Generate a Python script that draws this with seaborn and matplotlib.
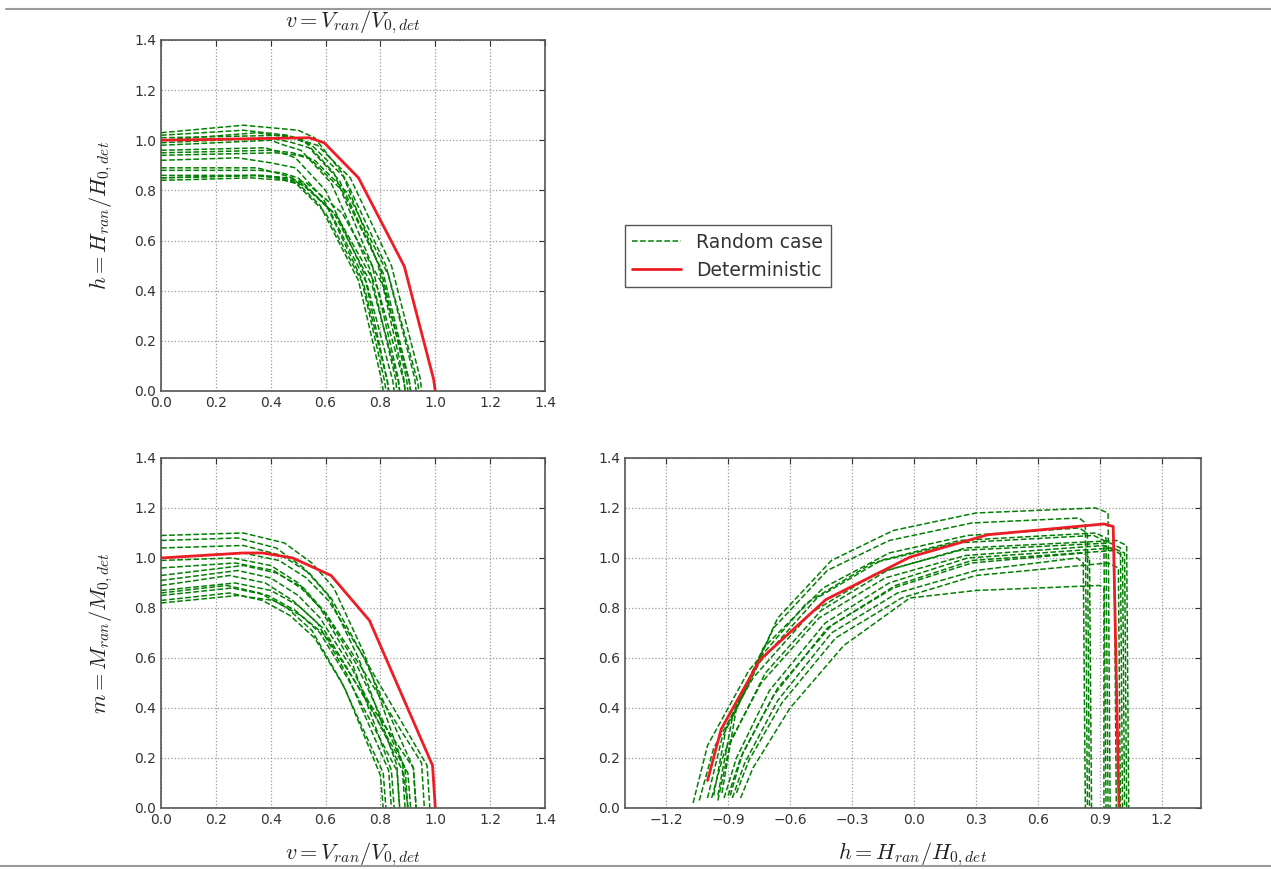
import numpy as np
import pandas as pd
import matplotlib
matplotlib.use("Agg")
import matplotlib.pyplot as plt
from matplotlib.lines import Line2D
import seaborn as sns

# deterministic interaction curves
det_vh_v = [0.0, 0.54, 0.595, 0.72, 0.887, 0.994, 1.0]
det_vh_h = [1.0, 1.01, 0.99, 0.85, 0.497, 0.046, 0.0]

det_vm_v = [0.0, 0.30, 0.37, 0.48, 0.62, 0.76, 0.99, 1.0]
det_vm_m = [1.0, 1.02, 1.02, 1.0, 0.93, 0.75, 0.17, 0.0]

det_hm_h = [-1.0, -0.934, -0.746, -0.426, -0.018, 0.358, 0.92, 0.965, 0.993]
det_hm_m = [0.11, 0.315, 0.593, 0.834, 1.004, 1.093, 1.136, 1.126, 0.0]

# random cases, one list per case
rand_vh_v = [
    [0, 0.30, 0.50, 0.56, 0.66, 0.79, 0.885, 0.89],
    [0, 0.35, 0.48, 0.55, 0.67, 0.82, 0.925, 0.93],
    [0, 0.40, 0.45, 0.51, 0.62, 0.76, 0.855, 0.86],
    [0, 0.38, 0.44, 0.49, 0.60, 0.74, 0.825, 0.83],
    [0, 0.40, 0.48, 0.54, 0.66, 0.81, 0.905, 0.91],
    [0, 0.42, 0.50, 0.56, 0.68, 0.83, 0.935, 0.94],
    [0, 0.35, 0.42, 0.48, 0.58, 0.72, 0.805, 0.81],
    [0, 0.36, 0.44, 0.50, 0.61, 0.75, 0.845, 0.85],
    [0, 0.34, 0.42, 0.49, 0.60, 0.74, 0.825, 0.83],
    [0, 0.35, 0.44, 0.51, 0.63, 0.77, 0.865, 0.87],
    [0, 0.33, 0.45, 0.52, 0.64, 0.79, 0.885, 0.89],
    [0, 0.37, 0.46, 0.53, 0.66, 0.81, 0.905, 0.91],
    [0, 0.45, 0.51, 0.57, 0.69, 0.84, 0.945, 0.95],
    [0, 0.28, 0.40, 0.49, 0.59, 0.73, 0.815, 0.82],
    [0, 0.40, 0.48, 0.54, 0.65, 0.80, 0.895, 0.90],
    [0, 0.30, 0.46, 0.52, 0.63, 0.77, 0.865, 0.87],
]
rand_vh_h = [
    [1.03, 1.06, 1.04, 1.01, 0.87, 0.51, 0.05, 0],
    [1.00, 1.03, 1.01, 0.98, 0.85, 0.50, 0.05, 0],
    [0.98, 1.00, 0.98, 0.96, 0.83, 0.49, 0.05, 0],
    [0.96, 0.97, 0.95, 0.93, 0.80, 0.47, 0.04, 0],
    [0.95, 0.96, 0.95, 0.93, 0.80, 0.47, 0.04, 0],
    [0.94, 0.95, 0.94, 0.92, 0.79, 0.46, 0.04, 0],
    [0.89, 0.89, 0.87, 0.85, 0.74, 0.44, 0.04, 0],
    [0.88, 0.88, 0.87, 0.85, 0.73, 0.43, 0.04, 0],
    [0.86, 0.86, 0.85, 0.83, 0.71, 0.42, 0.04, 0],
    [0.85, 0.86, 0.85, 0.83, 0.71, 0.42, 0.04, 0],
    [0.84, 0.85, 0.84, 0.82, 0.70, 0.41, 0.04, 0],
    [0.85, 0.86, 0.85, 0.83, 0.71, 0.42, 0.04, 0],
    [1.01, 1.02, 1.00, 0.98, 0.85, 0.50, 0.05, 0],
    [0.92, 0.93, 0.91, 0.89, 0.77, 0.45, 0.04, 0],
    [0.99, 1.01, 0.99, 0.97, 0.84, 0.49, 0.05, 0],
    [1.02, 1.04, 1.02, 1.00, 0.87, 0.50, 0.05, 0],
]

rand_vm_v = [
    [0, 0.30, 0.45, 0.55, 0.63, 0.74, 0.88, 0.90],
    [0, 0.28, 0.42, 0.52, 0.61, 0.72, 0.86, 0.87],
    [0, 0.30, 0.44, 0.54, 0.62, 0.74, 0.92, 0.93],
    [0, 0.26, 0.40, 0.50, 0.58, 0.70, 0.84, 0.85],
    [0, 0.30, 0.42, 0.52, 0.60, 0.72, 0.95, 0.96],
    [0, 0.28, 0.40, 0.50, 0.58, 0.70, 0.88, 0.89],
    [0, 0.25, 0.38, 0.48, 0.57, 0.68, 0.83, 0.84],
    [0, 0.27, 0.40, 0.50, 0.59, 0.70, 0.90, 0.91],
    [0, 0.24, 0.36, 0.46, 0.55, 0.66, 0.81, 0.82],
    [0, 0.26, 0.39, 0.49, 0.58, 0.69, 0.86, 0.87],
    [0, 0.25, 0.37, 0.47, 0.56, 0.67, 0.80, 0.81],
    [0, 0.28, 0.41, 0.51, 0.60, 0.71, 0.92, 0.93],
    [0, 0.30, 0.43, 0.53, 0.61, 0.73, 0.97, 0.98],
    [0, 0.27, 0.41, 0.51, 0.59, 0.71, 0.89, 0.90],
]
rand_vm_m = [
    [1.09, 1.10, 1.06, 0.98, 0.88, 0.62, 0.18, 0],
    [1.07, 1.08, 1.04, 0.96, 0.85, 0.60, 0.17, 0],
    [1.04, 1.05, 1.01, 0.94, 0.84, 0.60, 0.16, 0],
    [0.99, 1.00, 0.97, 0.90, 0.80, 0.57, 0.15, 0],
    [0.93, 0.97, 0.94, 0.88, 0.78, 0.58, 0.18, 0],
    [0.91, 0.95, 0.92, 0.85, 0.76, 0.55, 0.15, 0],
    [0.89, 0.93, 0.90, 0.83, 0.74, 0.53, 0.15, 0],
    [0.87, 0.90, 0.87, 0.81, 0.72, 0.52, 0.14, 0],
    [0.86, 0.89, 0.86, 0.80, 0.71, 0.50, 0.14, 0],
    [0.85, 0.88, 0.85, 0.79, 0.70, 0.50, 0.15, 0],
    [0.83, 0.86, 0.83, 0.77, 0.68, 0.48, 0.13, 0],
    [0.82, 0.85, 0.83, 0.77, 0.69, 0.50, 0.16, 0],
    [1.00, 1.02, 0.99, 0.92, 0.83, 0.62, 0.17, 0],
    [0.96, 0.98, 0.95, 0.88, 0.79, 0.58, 0.16, 0],
]

rand_hm_h = [
    [-0.93, -0.86, -0.66, -0.40, -0.10, 0.30, 0.88, 0.94, 0.95],
    [-0.95, -0.88, -0.68, -0.42, -0.12, 0.28, 0.80, 0.83, 0.84],
    [-1.07, -1.00, -0.80, -0.52, -0.20, 0.20, 0.87, 0.92, 0.93],
    [-1.04, -0.97, -0.78, -0.50, -0.18, 0.22, 0.95, 1.00, 1.01],
    [-0.98, -0.92, -0.74, -0.46, -0.14, 0.25, 0.92, 0.97, 0.98],
    [-0.92, -0.86, -0.70, -0.43, -0.12, 0.26, 0.96, 1.02, 1.03],
    [-0.90, -0.84, -0.68, -0.42, -0.10, 0.28, 0.82, 0.85, 0.86],
    [-0.88, -0.82, -0.66, -0.40, -0.08, 0.30, 0.79, 0.82, 0.83],
    [-0.86, -0.80, -0.64, -0.38, -0.06, 0.30, 0.94, 0.99, 1.00],
    [-0.95, -0.89, -0.72, -0.45, -0.13, 0.25, 0.98, 1.03, 1.04],
    [-1.00, -0.93, -0.75, -0.47, -0.16, 0.22, 0.88, 0.93, 0.94],
    [-0.84, -0.78, -0.60, -0.34, -0.02, 0.30, 0.90, 0.92, 0.92],
    [-0.97, -0.91, -0.73, -0.44, -0.12, 0.26, 0.80, 0.84, 0.85],
    [-0.89, -0.83, -0.66, -0.40, -0.09, 0.28, 0.97, 1.01, 1.02],
]
rand_hm_m = [
    [0.06, 0.40, 0.76, 0.99, 1.11, 1.18, 1.20, 1.18, 0],
    [0.05, 0.36, 0.72, 0.95, 1.07, 1.14, 1.16, 1.14, 0],
    [0.02, 0.25, 0.55, 0.82, 0.98, 1.06, 1.09, 1.07, 0],
    [0.03, 0.24, 0.52, 0.78, 0.94, 1.03, 1.06, 1.04, 0],
    [0.04, 0.22, 0.50, 0.76, 0.92, 1.01, 1.05, 1.03, 0],
    [0.04, 0.20, 0.47, 0.74, 0.90, 1.00, 1.04, 1.02, 0],
    [0.05, 0.20, 0.45, 0.72, 0.88, 0.98, 1.02, 1.00, 0],
    [0.04, 0.18, 0.43, 0.70, 0.86, 0.95, 1.00, 0.98, 0],
    [0.06, 0.19, 0.42, 0.68, 0.84, 0.93, 0.98, 0.96, 0],
    [0.03, 0.26, 0.54, 0.79, 0.95, 1.04, 1.07, 1.05, 0],
    [0.04, 0.28, 0.58, 0.84, 0.99, 1.07, 1.10, 1.08, 0],
    [0.04, 0.16, 0.40, 0.65, 0.84, 0.87, 0.89, 0.88, 0],
    [0.05, 0.32, 0.64, 0.88, 1.02, 1.09, 1.12, 1.10, 0],
    [0.05, 0.22, 0.48, 0.73, 0.89, 0.99, 1.03, 1.01, 0],
]

y_ticks = [0.0, 0.2, 0.4, 0.6, 0.8, 1.0, 1.2, 1.4]
v_ticks = [0.0, 0.2, 0.4, 0.6, 0.8, 1.0, 1.2, 1.4]
h_ticks = [-1.2, -0.9, -0.6, -0.3, 0.0, 0.3, 0.6, 0.9, 1.2]


def to_frame(xs, ys):
    parts = []
    for i, (x, y) in enumerate(zip(xs, ys)):
        parts.append(pd.DataFrame({"case": i, "x": x, "y": y}))
    return pd.concat(parts, ignore_index=True)


def draw(ax, rx, ry, dx, dy):
    sns.lineplot(data=to_frame(rx, ry), x="x", y="y", units="case",
                 estimator=None, sort=False, color="green", linestyle="--",
                 lw=1.1, ax=ax, legend=False)
    sns.lineplot(data=pd.DataFrame({"x": dx, "y": dy}), x="x", y="y",
                 estimator=None, sort=False, color="#ee1c24", lw=2, ax=ax)
    ax.grid(True, color="#9a9a9a", linestyle=":", lw=0.9)
    ax.tick_params(direction="in", top=True, right=True, length=4,
                   labelsize=10, colors="#333333")
    for sp in ax.spines.values():
        sp.set_color("#555555")
        sp.set_linewidth(1.2)
    ax.set_ylim(0, 1.4)
    ax.set_yticks(y_ticks)
    ax.set_xlabel("")
    ax.set_ylabel("")


sns.set_style("white")
plt.rcParams["mathtext.fontset"] = "cm"
plt.rcParams["font.family"] = ["DejaVu Sans"]

fig = plt.figure(figsize=(12.71, 8.69), dpi=100)
ax_tl = fig.add_axes([0.1267, 0.5501, 0.3021, 0.4039])
ax_bl = fig.add_axes([0.1267, 0.0702, 0.3021, 0.4028])
ax_br = fig.add_axes([0.4917, 0.0702, 0.4532, 0.4028])

draw(ax_tl, rand_vh_v, rand_vh_h, det_vh_v, det_vh_h)
draw(ax_bl, rand_vm_v, rand_vm_m, det_vm_v, det_vm_m)
draw(ax_br, rand_hm_h, rand_hm_m, det_hm_h, det_hm_m)

for ax in (ax_tl, ax_bl):
    ax.set_xlim(0, 1.4)
    ax.set_xticks(v_ticks)
ax_br.set_xlim(-1.4, 1.39)
ax_br.set_xticks(h_ticks)

lab = dict(fontsize=16, color="#222222")
ax_tl.set_title(r"$v = V_{ran}/V_{0,det}$", pad=9, **lab)
ax_tl.set_ylabel(r"$h = H_{ran}/H_{0,det}$", labelpad=14, **lab)
ax_bl.set_ylabel(r"$m = M_{ran}/M_{0,det}$", labelpad=14, **lab)
ax_bl.set_xlabel(r"$v = V_{ran}/V_{0,det}$", labelpad=10, **lab)
ax_br.set_xlabel(r"$h = H_{ran}/H_{0,det}$", labelpad=10, **lab)

handles = [Line2D([], [], color="green", linestyle="--", lw=1.1),
           Line2D([], [], color="#ee1c24", lw=2)]
fig.legend(handles, ["Random case", "Deterministic"], loc="upper left",
           bbox_to_anchor=(0.4917, 0.741), borderaxespad=0, fancybox=False,
           framealpha=1, edgecolor="#555555", fontsize=13.5,
           handlelength=2.6, labelcolor="#333333")

# page separator lines of the source document
fig.add_artist(Line2D([0.005, 1.0], [0.9896, 0.9896], transform=fig.transFigure,
                      color="#9a9a9a", lw=1.5))
fig.add_artist(Line2D([0.0, 1.0], [0.0035, 0.0035], transform=fig.transFigure,
                      color="#9a9a9a", lw=1.5))

fig.savefig("out.png", dpi=100)
